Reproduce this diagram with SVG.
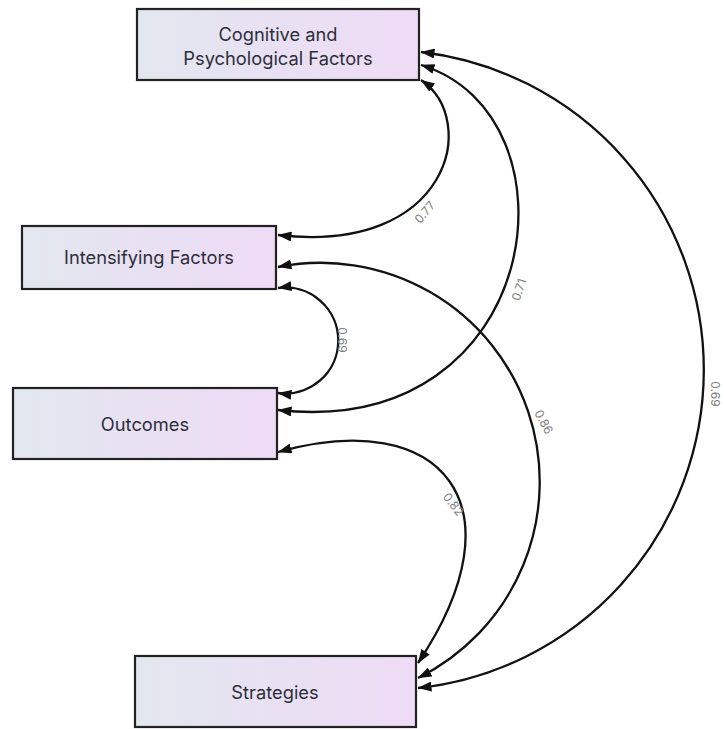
<svg xmlns="http://www.w3.org/2000/svg" width="724" height="729" viewBox="0 0 724 729">
<defs>
<linearGradient id="boxfill" x1="0" y1="0" x2="1" y2="0">
<stop offset="0" stop-color="#e2e7ef"/>
<stop offset="1" stop-color="#efdbf6"/>
</linearGradient>
<marker id="arrow" viewBox="0 0 14 10" refX="13.5" refY="5" markerWidth="14" markerHeight="10" markerUnits="userSpaceOnUse" orient="auto-start-reverse">
<path d="M0,0 L14,5 L0,10 z" fill="#111"/>
</marker>
<style>
.box{fill:url(#boxfill);stroke:#222;stroke-width:2.2}
.lbl{font-family:Inter,"Liberation Sans",sans-serif;font-size:18.3px;fill:#2e2e3a;text-anchor:middle}
.edge{fill:none;stroke:#111;stroke-width:2.3;marker-start:url(#arrow);marker-end:url(#arrow)}
.val{font-family:Inter,"Liberation Sans",sans-serif;font-size:12px;fill:#808080;text-anchor:middle}
</style>
</defs>
<rect width="724" height="729" fill="#ffffff"/>
<g id="connectors">
<path class="edge" d="M 421 80 C 480 120 450 255 278 235"/>
<path class="edge" d="M 421 65 C 585 115 545 440 278 410"/>
<path class="edge" d="M 421 52 A 320 320 0 0 1 418 688"/>
<path class="edge" d="M 278 288 A 53 53 0 1 1 278 393"/>
<path class="edge" d="M 278 267 A 219 219 0 0 1 418 678"/>
<path class="edge" d="M 278 452 C 442 406 524 505 418 663"/>
<text class="val" transform="translate(428,215) rotate(-50)">0.77</text>
<text class="val" transform="translate(523,291) rotate(-72)">0.71</text>
<text class="val" transform="translate(338,340) rotate(90)">0.69</text>
<text class="val" transform="translate(711,394) rotate(90)">0.69</text>
<text class="val" transform="translate(540,424) rotate(62)">0.86</text>
<text class="val" transform="translate(450,507) rotate(52)">0.82</text>
</g>
<g id="node-cognitive">
<rect class="box" x="137" y="9" width="282" height="71"/>
<text class="lbl" x="278" y="41">Cognitive and</text>
<text class="lbl" x="278" y="65">Psychological Factors</text>
</g>
<g id="node-intensifying">
<rect class="box" x="22" y="226" width="254" height="63"/>
<text class="lbl" x="149" y="264">Intensifying Factors</text>
</g>
<g id="node-outcomes">
<rect class="box" x="13" y="388" width="264" height="71"/>
<text class="lbl" x="145" y="431">Outcomes</text>
</g>
<g id="node-strategies">
<rect class="box" x="135" y="656" width="281" height="71"/>
<text class="lbl" x="275" y="699">Strategies</text>
</g>
</svg>
